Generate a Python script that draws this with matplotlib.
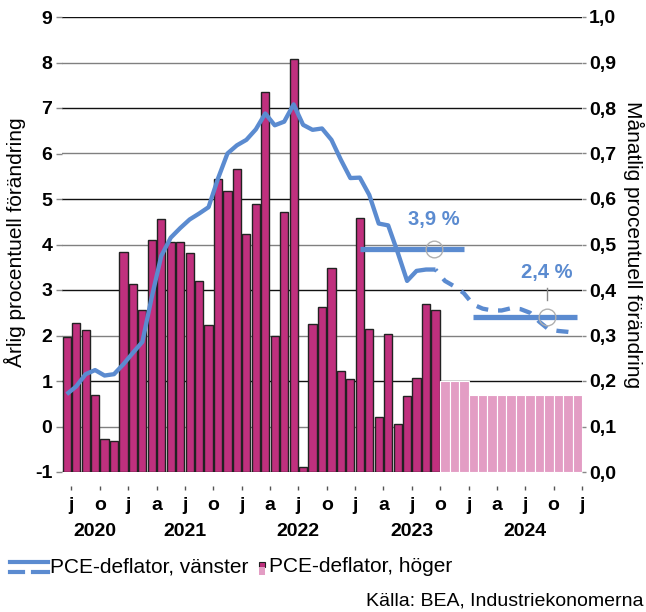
import numpy as np
import matplotlib
matplotlib.use('Agg')
import matplotlib.pyplot as plt
from matplotlib.lines import Line2D
from matplotlib.patches import Rectangle
from matplotlib.ticker import FuncFormatter

plt.rcParams['font.family'] = ['Liberation Sans', 'DejaVu Sans']
plt.rcParams['axes.unicode_minus'] = False

# data: one value per month, starting June 2020
start_year, start_month = 2020, 6
# monthly change, right axis (%), actual Jun 2020 - Sep 2023
mom_actual = [0.297, 0.327, 0.313, 0.169, 0.072, 0.068, 0.484, 0.414, 0.355, 0.510,
              0.555, 0.505, 0.505, 0.482, 0.420, 0.323, 0.645, 0.618, 0.667, 0.523,
              0.590, 0.836, 0.299, 0.571, 0.907, 0.012, 0.325, 0.362, 0.449, 0.222,
              0.205, 0.559, 0.314, 0.120, 0.303, 0.105, 0.166, 0.207, 0.369, 0.355]
# monthly change, forecast Oct 2023 - Dec 2024
mom_forecast = [0.20, 0.20, 0.20] + [0.17] * 12
# annual change, left axis (%)
yoy_actual = [0.71, 0.88, 1.15, 1.24, 1.12, 1.15, 1.37, 1.62, 1.86, 2.85,
              3.75, 4.15, 4.36, 4.55, 4.68, 4.82, 5.45, 6.00, 6.18, 6.30,
              6.53, 6.88, 6.62, 6.70, 7.08, 6.63, 6.52, 6.55, 6.30, 5.86,
              5.46, 5.47, 5.09, 4.46, 4.42, 3.83, 3.20, 3.42, 3.45, 3.45]
yoy_forecast = [3.20, 3.08, 2.93, 2.68, 2.59, 2.55, 2.55, 2.60, 2.58, 2.50,
                2.30, 2.13, 2.10, 2.08, 2.05]
# yearly averages shown as labels
avg_years = [2023, 2024]
avg_values = [3.9, 2.4]
avg_label_x = [39.3, 51.3]
avg_label_y = [4.56, 3.38]

month_letters = 'jfmamjjasond'
blue = '#5B8BD0'
magenta = '#C0307E'
pink = '#E39DC4'

n_act = len(mom_actual)
n_all = n_act + len(mom_forecast)
x_act = np.arange(n_act) + 0.5
x_fc = np.arange(n_act, n_all) + 0.5

fig = plt.figure(figsize=(6.46, 6.12), dpi=100)
ax = fig.add_axes([62 / 646, 1 - 472 / 612, 520 / 646, 455 / 612])
ax2 = ax.twinx()
ax.set_zorder(2)
ax2.set_zorder(1)
ax.patch.set_visible(False)

# bars on the right axis
ax2.bar(x_act, mom_actual, width=0.86, color=magenta, edgecolor='#222222', linewidth=1.0)
ax2.bar(x_fc, mom_forecast, width=1.0, color=pink, edgecolor='white', linewidth=0.8)
ax2.set_ylim(0, 1.0)
ax2.set_yticks(np.arange(0, 1.01, 0.1))
ax2.yaxis.set_major_formatter(FuncFormatter(lambda v, p: f'{v:.1f}'.replace('.', ',')))
ax2.set_axisbelow(True)
ax2.yaxis.grid(True, linewidth=1.0)
for i, gl in enumerate(ax2.get_ygridlines()):
    gl.set_color('#111111' if i % 2 == 0 else '#808080')

# line on the left axis
ax.plot(x_act, yoy_actual, color=blue, lw=3.1, solid_capstyle='butt')
ax.plot(np.r_[x_act[-1], x_fc], np.r_[yoy_actual[-1], yoy_forecast], color=blue, lw=3.1,
        linestyle=(2.3, (2.8, 2.3)), dash_capstyle='butt')

# yearly averages
for yr, val, lx, ly in zip(avg_years, avg_values, avg_label_x, avg_label_y):
    i0 = (yr - start_year) * 12 + 1 - start_month
    ax.plot([i0 + 0.5, i0 + 11.5], [val, val], color=blue, lw=3.8, solid_capstyle='butt')
    ax.plot(lx, val, 'o', ms=12, mfc='none', mec='#b0b0b0', mew=1)
    ax.text(lx, ly, f'{val:.1f} %'.replace('.', ','), ha='center', va='center',
            fontsize=14.5, fontweight='bold', color=blue)
ax.plot([avg_label_x[1]] * 2, [2.78, 3.04], color='#888888', lw=1)

ax.set_ylim(-1, 9)
ax.set_yticks(range(-1, 10))
ax.set_xlim(0, n_all)

# month ticks at the start of each quarter month
tick_pos = np.arange(1, n_all + 1, 3)
tick_lab = [month_letters[(start_month - 1 + int(t)) % 12] for t in tick_pos]
ax.set_xticks(tick_pos)
ax.set_xticklabels(tick_lab)

for s in ax.spines.values():
    s.set_visible(False)
for s in ax2.spines.values():
    s.set_visible(False)
ax.spines['bottom'].set_position(('outward', 10))

ax.tick_params(axis='x', length=3, width=1, color='#555555', pad=5, labelsize=14)
ax.tick_params(axis='y', length=4, width=1, color='#888888', pad=3, labelsize=14)
ax2.tick_params(axis='y', length=3, width=1, color='#888888', pad=2, labelsize=14)
for lab in ax.get_xticklabels() + ax.get_yticklabels() + ax2.get_yticklabels():
    lab.set_fontweight('bold')

# year labels centred under each year's months
for yr in range(start_year, 2025):
    i0 = max(0, (yr - start_year) * 12 + 1 - start_month)
    i1 = min(n_all, (yr - start_year) * 12 + 13 - start_month)
    ax.text((i0 + i1) / 2, -0.13, str(yr), transform=ax.get_xaxis_transform(),
            ha='center', va='center', fontsize=14, fontweight='bold')

fig.text(15 / 646, 0.605, 'Årlig procentuell förändring', rotation=90,
         ha='center', va='center', fontsize=15)
fig.text(634 / 646, 0.60, 'Månatlig procentuell förändring', rotation=270,
         ha='center', va='center', fontsize=15)


# legend drawn in figure pixels
def fx(px):
    return px / 646


def fy(py):
    return 1 - py / 612


fig.add_artist(Line2D([fx(10), fx(48)], [fy(562)] * 2, color=blue, lw=3))
fig.add_artist(Line2D([fx(10), fx(23)], [fy(572)] * 2, color=blue, lw=3))
fig.add_artist(Line2D([fx(33), fx(48)], [fy(572)] * 2, color=blue, lw=3))
fig.text(fx(50), fy(567), 'PCE-deflator, vänster', ha='left', va='center', fontsize=15)
fig.add_artist(Rectangle((fx(259), fy(567)), fx(6), 5 / 612, transform=fig.transFigure,
                         facecolor=magenta, edgecolor='#222222', lw=0.8))
fig.add_artist(Rectangle((fx(259), fy(575)), fx(6), 8 / 612, transform=fig.transFigure,
                         facecolor=pink, edgecolor='none'))
fig.text(fx(269), fy(567), 'PCE-deflator, höger', ha='left', va='center', fontsize=15)
fig.text(fx(643), fy(601), 'Källa: BEA, Industriekonomerna', ha='right', va='center',
         fontsize=14)

fig.savefig('out.png', dpi=100)
